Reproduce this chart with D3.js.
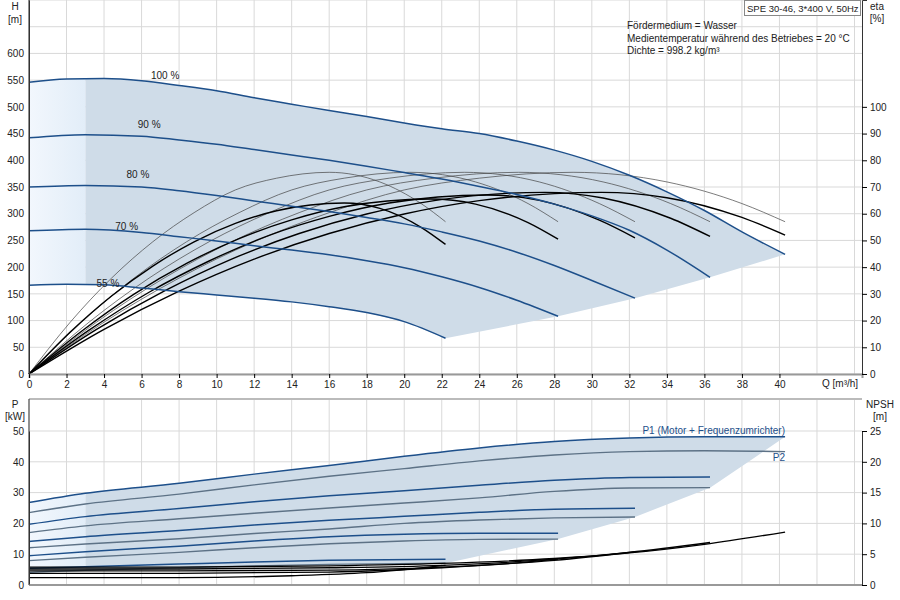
<!DOCTYPE html>
<html><head><meta charset="utf-8">
<script src="https://cdn.jsdelivr.net/npm/d3@7"></script>
<style>body{margin:0;background:#fff}text{font-family:"Liberation Sans",Arial,sans-serif;font-size:10px;fill:#222}</style>
</head><body><svg id="c" width="900" height="600"></svg>
<script>
const speedLabels=["100 %","90 %","80 %","70 %","55 %"];
const xTicks=[0,2,4,6,8,10,12,14,16,18,20,22,24,26,28,30,32,34,36,38,40];
const hTicks=[0,50,100,150,200,250,300,350,400,450,500,550,600];
const etaTicks=[0,10,20,30,40,50,60,70,80,90,100];
const pTicks=[0,10,20,30,40,50];
const npshTicks=[0,5,10,15,20,25];
const regionStartQ=3;
// QH curves [Q, H]
const qh100=[[0,546],[2,552],[4,553],[6,549],[8,540],[10,530],[12,517],[14,505],[16,493],[18,482],[20,470],[22,459],[24,450],[26,436],[28,419],[30,398],[32,372],[34,341],[36,306],[38,266],[40.3,224]];
const qh90=[[0,442],[3,448],[6,445],[8,438],[10,430],[12,420],[14,410],[16,400],[18,389],[20,377],[22,365],[24,351],[26,336],[28,318],[30,296],[32,269],[34,232],[36.3,181]];
const qh80=[[0,350],[3,353],[6,350],[8,343],[10,334],[12,324],[14,314],[16,304],[18,293],[20,281],[22,266],[24,249],[26,228],[28,203],[30,175],[32.3,142]];
const qh70=[[0,268],[3,271],[6,265],[8,257],[10,249],[12,240],[14,232],[16,223],[18,212],[20,199],[22,182],[24,162],[26,138],[28.2,108]];
const qh55=[[0,166],[2,168],[4,167],[6,161],[8,154],[10,148],[12,142],[14,135],[16,126],[18,115],[20,98],[22.2,67]];
const qhCurves=[qh100,qh90,qh80,qh70,qh55];
// efficiency curves [Q, eta]
const etaThin100=[[0,0],[4,19.4],[8,35.9],[12,49.5],[16,60.4],[20,68.9],[24,73.3],[29,75.5],[34,71.9],[38,63.8],[40.3,57]];
const etaThin90=[[0,0],[3.6,19.4],[7.2,35.9],[10.8,49.5],[14.4,60.4],[18,68.9],[21.6,73.3],[26.1,75.5],[30.6,71.9],[34.2,63.8],[36.3,57]];
const etaThin80=[[0,0],[3.2,19.4],[6.4,35.9],[9.6,49.5],[12.8,60.4],[16,68.9],[19.2,73.3],[23.2,75.5],[27.2,71.9],[30.4,63.8],[32.3,57]];
const etaThin70=[[0,0],[2.8,19.4],[5.6,35.9],[8.4,49.5],[11.2,60.4],[14,68.9],[16.8,73.3],[20.3,75.5],[23.8,71.9],[26.6,63.8],[28.2,57]];
const etaThin55=[[0,0],[2.2,19.4],[4.4,35.9],[6.6,49.5],[8.8,60.4],[11,68.9],[13.2,73.3],[16,75.5],[18.7,71.9],[20.9,63.8],[22.2,57]];
const etaThick100=[[0,0],[4,16.7],[8,31],[12,43],[16,52.6],[20,59.9],[24,64.9],[30.5,68],[34,66],[38,58.6],[40.3,52]];
const etaThick90=[[0,0],[3.6,16.7],[7.2,31],[10.8,43],[14.4,52.6],[18,59.9],[21.6,64.9],[27.5,68],[30.6,65.9],[34.2,58.3],[36.3,51.5]];
const etaThick80=[[0,0],[3.2,16.4],[6.4,30.6],[9.6,42.3],[12.8,51.9],[16,59],[19.2,64],[24.4,67],[27.2,65],[30.4,57.6],[32.3,51]];
const etaThick70=[[0,0],[2.8,16],[5.6,29.9],[8.4,41.4],[11.2,50.7],[14,57.7],[16.8,62.6],[21.4,65.5],[23.8,63.6],[26.6,56.7],[28.2,50.5]];
const etaThick55=[[0,0],[2.2,15.7],[4.4,29.2],[6.6,40.4],[8.8,49.5],[11,56.4],[13.2,61.1],[16.8,64],[18.7,62],[20.9,54.9],[22.2,48.5]];
const etaThin=[etaThin100,etaThin90,etaThin80,etaThin70,etaThin55];
const etaThick=[etaThick100,etaThick90,etaThick80,etaThick70,etaThick55];
// power curves [Q, kW]
const p1_100=[[0,26.8],[3,29.8],[8,33],[12,36],[16,38.8],[20,41.8],[24,44.5],[28,46.6],[32,47.7],[36,48.1],[40.3,48.1]];
const p2_100=[[0,23.5],[3,26.3],[8,29.5],[12,32.5],[16,35.3],[20,37.8],[24,40.3],[28,42.2],[32,43.3],[36,43.6],[40.3,43.3]];
const p1_90=[[0,19.7],[3,22.2],[8,24.8],[12,27],[16,29],[20,30.6],[24,32.4],[28,34],[32,34.9],[36.3,35.1]];
const p2_90=[[0,17],[3,19.2],[8,21.5],[12,23.3],[16,25],[20,26.6],[24,28.3],[28,30.4],[32,31.5],[36.3,31.6]];
const p1_80=[[0,14.1],[3,15.7],[8,17.7],[12,19.5],[16,21],[20,22.3],[24,23.6],[28,24.6],[32.3,24.9]];
const p2_80=[[0,12.1],[3,13.3],[8,15],[12,16.7],[16,18.2],[20,20],[24,21.1],[28,21.8],[32.3,22.1]];
const p1_70=[[0,9.5],[3,10.8],[8,12.6],[12,14.3],[16,15.7],[20,16.5],[24,16.8],[28.2,16.8]];
const p2_70=[[0,7.9],[3,9],[8,10.6],[12,12.1],[16,13.4],[20,14.3],[24,14.8],[28.2,14.9]];
const p1_55=[[0,5.4],[3,5.9],[8,6.8],[12,7.5],[16,8],[22.2,8.4]];
const p2_55=[[0,4.1],[3,4.8],[8,5.6],[12,6.2],[16,6.7],[22.2,7.1]];
const p1Curves=[p1_100,p1_90,p1_80,p1_70,p1_55];
const p2Curves=[p2_100,p2_90,p2_80,p2_70,p2_55];
// NPSH [Q, m]
const npsh100=[[0,2.9],[8,2.9],[16,3.1],[22,3.5],[28,4.3],[32,5.2],[36,6.6],[40.3,8.6]];
const npsh90=[[0,2.6],[8,2.6],[16,2.8],[22,3.2],[28,4.2],[32,5.3],[36.3,6.9]];
const npsh80=[[0,2.3],[8,2.3],[16,2.4],[22,2.9],[28,4.0],[32.3,5.4]];
const npsh70=[[0,1.9],[8,1.9],[16,2.1],[22,2.8],[26,3.6],[28.2,4.2]];
const npsh55=[[0,1.2],[8,1.2],[14,1.5],[18,2.0],[22.2,3.2]];
const npshCurves=[npsh100,npsh90,npsh80,npsh70,npsh55];

const svg=d3.select("#c");
const x=d3.scaleLinear().domain([0,44.4]).range([29,862]);
const yH=d3.scaleLinear().domain([0,700]).range([374,0]);
const yE=d3.scaleLinear().domain([0,140]).range([374,0]);
const yP=d3.scaleLinear().domain([0,50]).range([585,431]);
const yN=d3.scaleLinear().domain([0,25]).range([585,431]);
const grid="#d9d9d9", shade="#cfdce8", blue="#1d4f8a";
const defs=svg.append("defs");
const gr=defs.append("linearGradient").attr("id","lg");
gr.append("stop").attr("offset","0").attr("stop-color","#f2f7fd");
gr.append("stop").attr("offset","1").attr("stop-color","#e2edf8");

function gridLines(yS,vals,top,bot){
  const g=svg.append("g");
  d3.range(0,45,2).forEach(q=>g.append("line").attr("x1",x(q)).attr("x2",x(q)).attr("y1",top).attr("y2",bot).attr("stroke",grid));
  vals.forEach(v=>g.append("line").attr("x1",29).attr("x2",862).attr("y1",yS(v)).attr("y2",yS(v)).attr("stroke",grid));
}
gridLines(yH,d3.range(0,701,50),0,374);
gridLines(yP,d3.range(0,51,10),399,585);
svg.append("line").attr("x1",29).attr("x2",862).attr("y1",399).attr("y2",399).attr("stroke","#bbb").attr("stroke-width",2);

const L=(ys,c)=>d3.line().x(d=>x(d[0])).y(d=>ys(d[1])).curve(c||d3.curveMonotoneX);
const interp=(arr,q)=>{for(let i=1;i<arr.length;i++){if(arr[i][0]>=q){const a=arr[i-1],b=arr[i];return a[1]+(b[1]-a[1])*(q-a[0])/(b[0]-a[0]);}}return arr[arr.length-1][1];};

function regions(top,bottom,ends,ys){
  const topPart=top.filter(d=>d[0]>regionStartQ);
  const botPart=bottom.filter(d=>d[0]>regionStartQ&&d[0]<bottom[bottom.length-1][0]).reverse();
  const poly=[[regionStartQ,interp(top,regionStartQ)],...topPart,...ends,...botPart,[regionStartQ,interp(bottom,regionStartQ)]];
  svg.append("path").attr("d",d3.line().x(d=>x(d[0])).y(d=>ys(d[1]))(poly)).attr("fill",shade);
  const lt=top.filter(d=>d[0]<regionStartQ), lb=bottom.filter(d=>d[0]<regionStartQ).reverse();
  const lp=[...lt,[regionStartQ,interp(top,regionStartQ)],[regionStartQ,interp(bottom,regionStartQ)],...lb];
  svg.append("path").attr("d",d3.line().x(d=>x(d[0])).y(d=>ys(d[1]))(lp)).attr("fill","url(#lg)");
}
regions(qh100,qh55,qhCurves.slice(1).map(c=>c[c.length-1]),yH);
regions(p1_100,p2_55,p2Curves.slice(1).map(c=>c[c.length-1]),yP);

etaThin.forEach(c=>svg.append("path").attr("d",L(yE)(c)).attr("fill","none").attr("stroke","#444").attr("stroke-width",0.7));
etaThick.forEach(c=>svg.append("path").attr("d",L(yE)(c)).attr("fill","none").attr("stroke","#000").attr("stroke-width",1.4));
qhCurves.forEach(c=>svg.append("path").attr("d",L(yH)(c)).attr("fill","none").attr("stroke",blue).attr("stroke-width",1.5));
const labPos=[[6.5,552],[5.8,460],[5.2,366],[4.6,270],[3.6,162]];
speedLabels.forEach((s,i)=>svg.append("text").attr("x",x(labPos[i][0])).attr("y",yH(labPos[i][1])).text(s));

p2Curves.forEach(c=>svg.append("path").attr("d",L(yP)(c)).attr("fill","none").attr("stroke","#5d7286").attr("stroke-width",1.4));
p1Curves.forEach(c=>svg.append("path").attr("d",L(yP)(c)).attr("fill","none").attr("stroke",blue).attr("stroke-width",1.5));
npshCurves.forEach(c=>svg.append("path").attr("d",L(yN)(c)).attr("fill","none").attr("stroke","#000").attr("stroke-width",1.3));
svg.append("text").attr("x",785).attr("y",434).attr("text-anchor","end").style("fill",blue).text("P1 (Motor + Frequenzumrichter)");
svg.append("text").attr("x",785).attr("y",461).attr("text-anchor","end").style("fill",blue).text("P2");

const ax=svg.append("g").attr("transform","translate(0,374)").call(d3.axisBottom(x).tickValues(xTicks).tickSize(4));
svg.append("g").attr("transform","translate(29,0)").call(d3.axisLeft(yH).tickValues(hTicks).tickSize(0).tickPadding(5));
svg.append("g").attr("transform","translate(862,0)").call(d3.axisRight(yE).tickValues(etaTicks).tickSize(5));
svg.append("g").attr("transform","translate(29,0)").call(d3.axisLeft(yP).tickValues(pTicks).tickSize(0).tickPadding(5));
svg.append("g").attr("transform","translate(862,0)").call(d3.axisRight(yN).tickValues(npshTicks).tickSize(5));
svg.selectAll(".domain").attr("stroke","#333");
ax.select(".domain").attr("stroke","#999").attr("stroke-width",2);
svg.append("line").attr("x1",29).attr("x2",862).attr("y1",585).attr("y2",585).attr("stroke","#999").attr("stroke-width",2);
svg.selectAll(".tick text").style("font-size","10px").style("fill","#222");
svg.append("line").attr("x1",29).attr("x2",29).attr("y1",0).attr("y2",374).attr("stroke","#333");
svg.append("line").attr("x1",29).attr("x2",29).attr("y1",399).attr("y2",585).attr("stroke","#333");
const T=(t,xx,yy,a)=>svg.append("text").attr("x",xx).attr("y",yy).attr("text-anchor",a||"start").text(t);
T("H",15,10,"middle");T("[m]",15,23,"middle");
T("eta",877,10,"middle");T("[%]",877,22,"middle");
T("Q [m³/h]",822,387);
T("P",15,408,"middle");T("[kW]",15,420,"middle");
T("NPSH",880,408,"middle");T("[m]",880,420,"middle");
svg.append("rect").attr("x",744.5).attr("y",0.5).attr("width",116).attr("height",15).attr("fill","#fff").attr("stroke","#888");
T("SPE 30-46, 3*400 V, 50Hz",747,12).style("font-size","9.5px");
T("Fördermedium = Wasser",627,29);
T("Medientemperatur während des Betriebes = 20 °C",627,42);
T("Dichte = 998.2 kg/m³",627,54);
</script></body></html>
